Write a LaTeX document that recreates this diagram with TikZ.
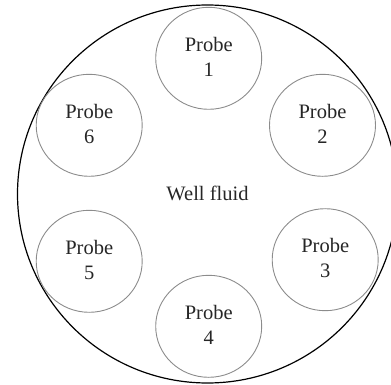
\documentclass[tikz,border=0pt]{standalone}
\usepackage{fontspec}
\setmainfont{Liberation Serif}
\usetikzlibrary{shapes.geometric}
\begin{document}
\begin{tikzpicture}[x=1pt,y=-1pt,
  probe/.style={draw=black!45, line width=0.9pt, ellipse, inner sep=0pt,
                minimum width=106pt, minimum height=102pt},
  probetext/.style={align=center, inner sep=0pt, text=black!85,
                    font=\fontsize{20.5pt}{25pt}\selectfont},
  well/.style={draw=black, line width=1.2pt}]
  \useasboundingbox (0,0) rectangle (391,385);
  % well bore
  \begin{scope}
    \clip (0,0) rectangle (391,385);
    \draw[well] (207.5,194) ellipse [x radius=190, y radius=189];
  \end{scope}
  \node[probetext] (fluid) at (207.5,193) {Well fluid};
  % probes around the bore
  \foreach \i/\x/\y in {1/208.7/58.3, 2/322.5/125.3, 3/325.2/259.7,
                        4/208.7/326.3, 5/89.2/261.3, 6/89.2/125.3} {
    \node[probe] (p\i) at (\x,\y) {};
    \node[probetext] (t\i) at ([yshift=1.8pt]p\i.center) {Probe\\\i};
  }
\end{tikzpicture}
\end{document}
